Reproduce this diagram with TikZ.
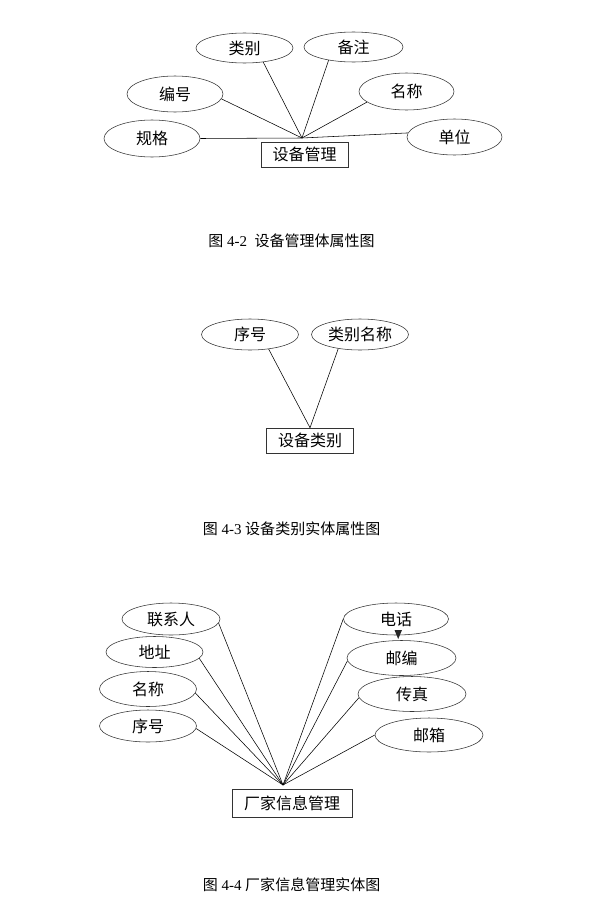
\documentclass[tikz,border=0pt]{standalone}
\usepackage{fontspec}
\setmainfont{Liberation Serif}
\newfontfamily\cjk{Noto Sans CJK SC}
\usetikzlibrary{shapes.geometric}

\begin{document}
\begin{tikzpicture}[x=1pt,y=-1pt,line width=0.55pt,
  attr/.style={ellipse,draw=black!80,fill=white,inner sep=0pt,
  minimum width=97pt,minimum height=32pt,font=\cjk\fontsize{16}{19}\selectfont},
  entity/.style={rectangle,draw=black!80,fill=white,inner sep=0pt,
  minimum height=25pt,font=\cjk\fontsize{16}{19}\selectfont},
  caption/.style={font=\fontsize{15}{18}\selectfont}]
  \useasboundingbox (0,0) rectangle (591,905);

  % 设备管理
  \node[entity,minimum width=87pt] (SBGL) at (304.5,154.5) {设备管理};
  \coordinate (H1) at (302,138);
  \node[attr,minimum height=30pt] (LB) at (244.5,48) {类别};
  \node[attr,minimum width=99pt,minimum height=30pt] (BZ) at (353.5,47) {备注};
  \node[attr,minimum width=96pt,minimum height=36pt] (BH) at (175,94) {编号};
  \node[attr,minimum width=95pt,minimum height=37pt] (MC) at (406.5,91.5) {名称};
  \node[attr,minimum width=96pt,minimum height=37pt] (GG) at (152,138.5) {规格};
  \node[attr,minimum width=95pt,minimum height=36pt] (DW) at (454.5,137) {单位};
  \path
    (H1) edge (LB.-37)
    (H1) edge (BZ.-152)
    (H1) edge (BH.-6)
    (H1) edge (MC.-165)
    (H1) edge (GG.east)
    (H1) edge (DW.175);
  \node[caption] (C2) at (291.5,241) {{\cjk 图} 4-2\ \ {\cjk 设备管理体属性图}};

  % 设备类别
  \node[entity,minimum width=87pt] (SBLB) at (310,440.5) {设备类别};
  \node[attr,minimum height=31pt] (XH) at (250,334.5) {序号};
  \node[attr,minimum height=31pt] (LBMC) at (360,334.5) {类别名称};
  \path
    (SBLB.north) edge (XH.-38)
    (SBLB.north) edge (LBMC.-147);
  \node[caption] (C3) at (291.5,529) {{\cjk 图} 4-3 {\cjk 设备类别实体属性图}};

  % 厂家信息管理
  \node[entity,minimum width=120pt,minimum height=28pt] (CJXX) at (292,803) {厂家信息管理};
  \coordinate (H3) at (283,785);
  \node[attr,minimum width=98pt] (LXR) at (171,619) {联系人};
  \node[attr,minimum height=31pt] (DZ) at (154.5,652) {地址};
  \node[attr,minimum height=35pt] (MC3) at (148,689) {名称};
  \node[attr] (XH3) at (148,726) {序号};
  \node[attr,minimum width=105pt] (DH) at (396,619) {电话};
  \node[attr,minimum width=109pt,minimum height=35pt] (YB) at (401.5,658) {邮编};
  \node[attr,minimum width=108pt,minimum height=35pt] (CZ) at (412,694) {传真};
  \node[attr,minimum width=108pt,minimum height=34pt] (YX) at (429,735) {邮箱};
  \fill[black!85] (394.5,630) -- (402,630) -- (398.2,639) -- cycle;
  \path
    (H3) edge (LXR.-5)
    (H3) edge (DZ.-8)
    (H3) edge (MC3.-5)
    (H3) edge (XH3.-3)
    (H3) edge (DH.west)
    (H3) edge (YB.183)
    (H3) edge (CZ.184)
    (H3) edge (YX.west);
  \node[caption] (C4) at (291.5,885) {{\cjk 图} 4-4 {\cjk 厂家信息管理实体图}};
\end{tikzpicture}
\end{document}
